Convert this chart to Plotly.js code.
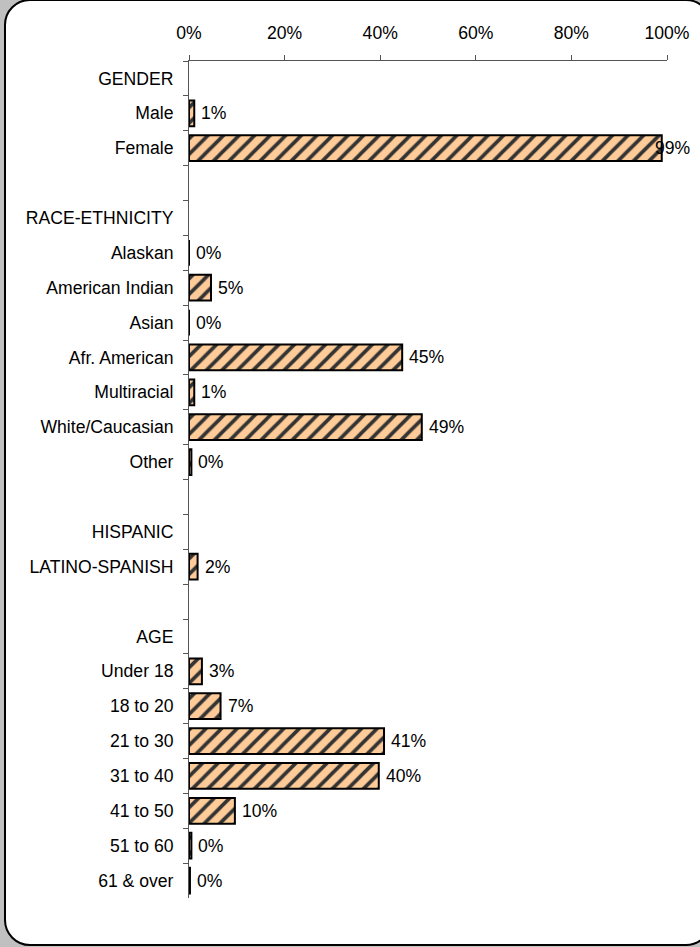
<!DOCTYPE html>
<html>
<head>
<meta charset="utf-8">
<script src="https://cdn.plot.ly/plotly-3.0.1.min.js"></script>
<style>
  html, body { margin: 0; padding: 0; }
  body { width: 700px; height: 947px; background: #c0c0c0; position: relative; overflow: hidden; }
  #frame { position: absolute; left: 4px; top: -1px; width: 708px; height: 947px; box-sizing: border-box;
           border: 2px solid #000; border-radius: 26px; background: #fff; }
  #chart { position: absolute; left: 0; top: 0; width: 700px; height: 947px; }
</style>
</head>
<body>
<div id="frame"></div>
<div id="chart"></div>
<script>
// Row categories, top to bottom (blank spacer rows use distinct whitespace names)
const categories = ["GENDER", "Male", "Female", " ",
  "RACE-ETHNICITY", "Alaskan", "American Indian", "Asian", "Afr. American", "Multiracial", "White/Caucasian", "Other", "  ",
  "HISPANIC", "LATINO-SPANISH", "   ",
  "AGE", "Under 18", "18 to 20", "21 to 30", "31 to 40", "41 to 50", "51 to 60", "61 & over"];
// Bar lengths in percent (null = header / spacer row, no bar)
const values = [null, 1.1, 98.9, null,
  null, 0, 4.6, 0, 44.6, 1.1, 48.7, 0.5, null,
  null, 1.8, null,
  null, 2.7, 6.6, 40.8, 39.7, 9.6, 0.5, 0.2];
// Data labels as printed on the chart
const labels = ["", "1%", "99%", "",
  "", "0%", "5%", "0%", "45%", "1%", "49%", "0%", "",
  "", "2%", "",
  "", "3%", "7%", "41%", "40%", "10%", "0%", "0%"];
const xTickVals = [0, 20, 40, 60, 80, 100];

const FONT = "Liberation Sans, Arial, sans-serif";
const FS = 17.6;
const AXIS_COLOR = "#555555";

const trace = {
  type: "bar",
  orientation: "h",
  y: categories,
  x: values,
  marker: {
    color: "#FFCC99",
    line: { color: "#000000", width: 2 },
    pattern: { shape: "/", fillmode: "replace", bgcolor: "#FFCC99", fgcolor: "#333333", size: 11, solidity: 0.33 }
  },
  hoverinfo: "skip"
};

const annotations = [];
values.forEach((v, i) => {
  if (v === null) return;
  annotations.push({
    x: v, y: categories[i], xref: "x", yref: "y",
    text: labels[i], showarrow: false, xanchor: "left", yanchor: "middle",
    xshift: v > 95 ? -9 : 5,
    font: { family: FONT, size: FS, color: "#000" }
  });
});

const layout = {
  width: 700, height: 947,
  margin: { l: 189, r: 33, t: 61, b: 49, pad: 0 },
  paper_bgcolor: "rgba(0,0,0,0)",
  plot_bgcolor: "rgba(0,0,0,0)",
  showlegend: false,
  bargap: 0.26,
  font: { family: FONT, size: FS, color: "#000" },
  xaxis: {
    side: "top", range: [0, 100], tickmode: "array", tickvals: xTickVals,
    ticktext: xTickVals.map(v => v + "%"),
    ticks: "outside", ticklen: 5, tickcolor: AXIS_COLOR, tickwidth: 1,
    showline: true, linecolor: AXIS_COLOR, linewidth: 1,
    showgrid: false, zeroline: false, fixedrange: true,
    ticklabelstandoff: 9,
    tickfont: { family: FONT, size: FS, color: "#000" }
  },
  yaxis: {
    type: "category", categoryorder: "array", categoryarray: categories,
    autorange: "reversed", tickson: "boundaries",
    ticks: "outside", ticklen: 5, tickcolor: AXIS_COLOR, tickwidth: 1,
    showline: true, linecolor: AXIS_COLOR, linewidth: 1,
    showgrid: false, zeroline: false, fixedrange: true,
    ticklabelstandoff: 11,
    tickfont: { family: FONT, size: FS, color: "#000" }
  },
  annotations: annotations
};

Plotly.newPlot("chart", [trace], layout, { displayModeBar: false, staticPlot: true });
</script>
</body>
</html>
